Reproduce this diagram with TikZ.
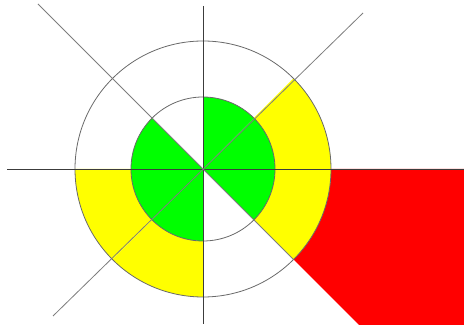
\documentclass[tikz,border=0pt]{standalone}
\usepackage{xcolor}
\usepackage{tikz}
\usetikzlibrary{calc}
\definecolor{ringgreen}{RGB}{0,255,0}
\definecolor{ringyellow}{RGB}{255,255,0}
\definecolor{zonered}{RGB}{255,0,0}
\definecolor{axisline}{RGB}{60,60,60}
\definecolor{diagline}{RGB}{125,125,125}
\definecolor{ringline}{RGB}{105,105,105}
\tikzset{
  axisstroke/.style={draw=axisline, line width=0.9pt},
  diagstroke/.style={draw=diagline, line width=0.8pt},
  ringstroke/.style={draw=ringline, line width=0.8pt},
}

\begin{document}
\begin{tikzpicture}[x=1pt, y=1pt]
\useasboundingbox (0,0) rectangle (464,332);
\coordinate (c) at (203,163);
% red zone beyond the ring, lower right
\coordinate (redfoot) at (359,7);
\fill[zonered] ($(c)+(0:128pt)$) -- (464,163) -- (464,7) -- (redfoot)
  -- ($(c)+(-45:128pt)$) arc[start angle=-45, end angle=0, radius=128pt] -- cycle;
% outer ring sectors
\foreach \a in {0, 180, 225, 315}
  \fill[ringyellow] (c) -- ($(c)+(\a:128pt)$) arc[start angle=\a, end angle=\a+45, radius=128pt] -- cycle;
\fill[white] (c) circle[radius=72pt];
% inner disc sectors
\foreach \a in {0, 45, 135, 180, 225, 315}
  \fill[ringgreen] (c) -- ($(c)+(\a:72pt)$) arc[start angle=\a, end angle=\a+45, radius=72pt] -- cycle;
\draw[ringstroke] (c) circle[radius=72pt];
\draw[ringstroke] (c) circle[radius=128pt];
% axes and diagonals
\coordinate (west) at (7,163);
\coordinate (east) at (464,163);
\coordinate (north) at (203,326);
\coordinate (south) at (203,8);
\coordinate (nw) at (38,328);
\coordinate (sw) at (53,16);
\coordinate (ne) at (363,319);
\draw[axisstroke] (west) -- (east);
\draw[axisstroke] (north) -- (south);
\draw[diagstroke] (nw) -- ($(c)+(-45:128pt)$);
\draw[diagstroke] (sw) -- (ne);
\end{tikzpicture}
\end{document}
